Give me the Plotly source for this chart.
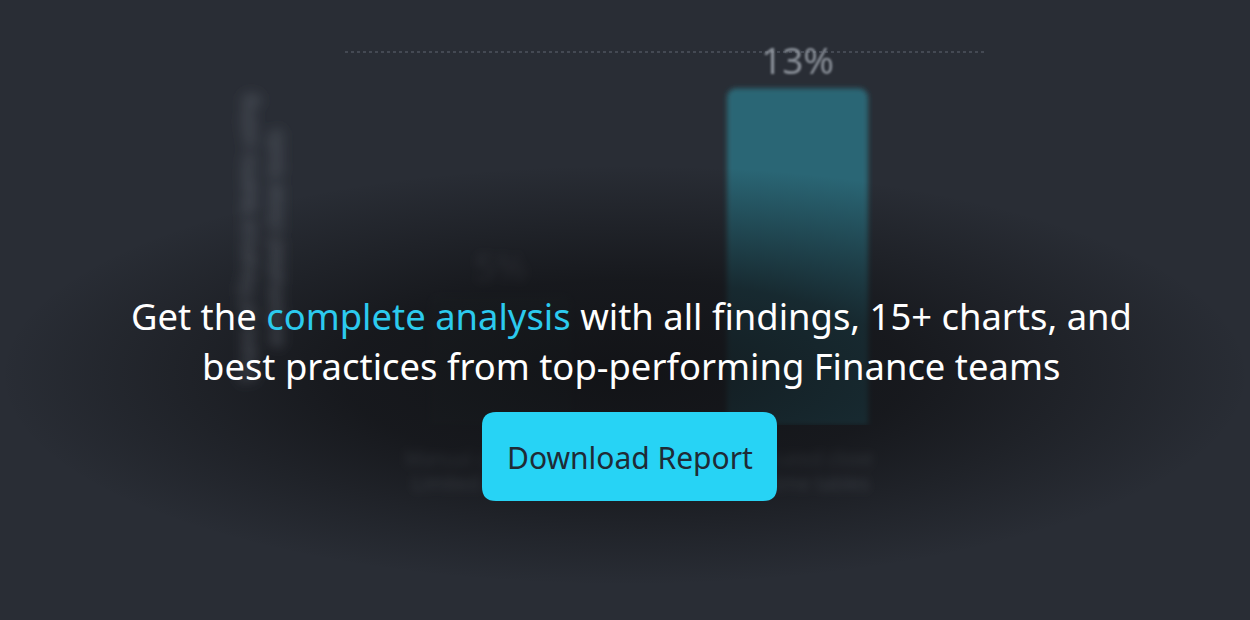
import base64
import plotly.graph_objects as go

# chart values (the chart behind the overlay is blurred, labels are approximate)
categories = ["Manual close process<br>Limited automation", "Automated close<br>Real-time tables"]
shares = [5, 13]
share_labels = ["5%", "13%"]
bar_colors = ["#2c3038", "#2b6675"]
label_colors = ["#464a53", "#8a9099"]

# overlay texts
line_one = ("Get the <span style='color:#2ccaee'>complete analysis</span>"
            " with all findings, 15+ charts, and")
line_two = "best practices from top-performing Finance teams"
button_text = "Download Report"

W, H = 1250, 620
L, R, T, B = 352, 304, 52, 195
PW, PH = W - L - R, H - T - B


def px(x):
    return (x - L) / PW


def py(y):
    return (H - B - y) / PH


fig = go.Figure()

fig.add_trace(go.Bar(
    x=categories, y=shares,
    text=share_labels, textposition="outside",
    textfont=dict(size=37, color=label_colors, family="Noto Sans"),
    marker=dict(color=bar_colors, cornerradius=9, line=dict(width=0)),
    width=0.475, cliponaxis=False, hoverinfo="skip",
))

# dark vignette behind the message
vignette = (
    "<svg xmlns='http://www.w3.org/2000/svg' width='1250' height='420'>"
    "<defs><radialGradient id='g' cx='50%' cy='50%' r='50%'>"
    "<stop offset='0' stop-color='#0f1013' stop-opacity='0.88'/>"
    "<stop offset='0.45' stop-color='#0f1013' stop-opacity='0.7'/>"
    "<stop offset='0.8' stop-color='#0f1013' stop-opacity='0.25'/>"
    "<stop offset='1' stop-color='#0f1013' stop-opacity='0'/>"
    "</radialGradient></defs>"
    "<rect width='1250' height='420' fill='url(#g)'/></svg>"
)
src = "data:image/svg+xml;base64," + base64.b64encode(vignette.encode()).decode()
fig.add_layout_image(dict(
    source=src, xref="paper", yref="paper",
    x=px(0), y=py(165), sizex=W / PW, sizey=420 / PH,
    sizing="stretch", xanchor="left", yanchor="top", layer="above", opacity=1,
))

# dotted top gridline
fig.add_shape(type="line", xref="paper", yref="paper",
              x0=px(345), x1=px(985), y0=1, y1=1,
              line=dict(color="#4d535d", width=1.5, dash="dot"), layer="below")

# rounded button
bx0, bx1, by0, by1, r = 482, 777, 412, 501, 14
path = (f"M {px(bx0 + r)},{py(by0)} L {px(bx1 - r)},{py(by0)} "
        f"Q {px(bx1)},{py(by0)} {px(bx1)},{py(by0 + r)} "
        f"L {px(bx1)},{py(by1 - r)} Q {px(bx1)},{py(by1)} {px(bx1 - r)},{py(by1)} "
        f"L {px(bx0 + r)},{py(by1)} Q {px(bx0)},{py(by1)} {px(bx0)},{py(by1 - r)} "
        f"L {px(bx0)},{py(by0 + r)} Q {px(bx0)},{py(by0)} {px(bx0 + r)},{py(by0)} Z")
fig.add_shape(type="path", path=path, xref="paper", yref="paper",
              fillcolor="#27d3f5", line=dict(width=0), layer="above")

font = "Noto Sans, Open Sans, sans-serif"
for txt, xc, yc, size, col in [(line_one, 631, 316, 36.4, "#ffffff"),
                               (line_two, 631, 366, 36.4, "#ffffff"),
                               (button_text, 630, 457, 30, "#1f2b36")]:
    fig.add_annotation(text=txt, x=px(xc), y=py(yc), xref="paper", yref="paper",
                       xanchor="center", yanchor="middle", showarrow=False,
                       font=dict(size=size, color=col, family=font))

fig.update_layout(
    width=W, height=H,
    margin=dict(l=L, r=R, t=T, b=B, pad=0),
    paper_bgcolor="#292d35", plot_bgcolor="#292d35",
    showlegend=False,
    font=dict(family=font),
)
fig.update_yaxes(range=[0, 14.4], showgrid=False, zeroline=False, showticklabels=False,
                 title=dict(text="Share of Finance teams using<br>automated close tools",
                            font=dict(size=21, color="#666c76"), standoff=62))
fig.update_xaxes(showgrid=False, showline=False, ticks="", ticklabelstandoff=20,
                 tickfont=dict(size=19, color="#5a606a"))

post = """
document.body.style.margin = '0';
document.body.style.overflow = 'hidden';
var gd = document.getElementById('{plot_id}');
var svg = gd.querySelector('.main-svg');
var ns = 'http://www.w3.org/2000/svg';
var defs = svg.querySelector('defs');
function mk(id, sd) {
  var f = document.createElementNS(ns, 'filter');
  f.setAttribute('id', id);
  f.setAttribute('filterUnits', 'userSpaceOnUse');
  f.setAttribute('x', '-1500'); f.setAttribute('y', '-1500');
  f.setAttribute('width', '4000'); f.setAttribute('height', '4000');
  var b = document.createElementNS(ns, 'feGaussianBlur');
  b.setAttribute('stdDeviation', sd);
  f.appendChild(b); defs.appendChild(f);
}
mk('lightblur', 1.0); mk('softblur', 2.4); mk('heavyblur', 4.5);
function blur(sel, id) {
  gd.querySelectorAll(sel).forEach(function(e) { e.setAttribute('filter', 'url(#' + id + ')'); });
}
blur('.barlayer .point path', 'softblur');
blur('.barlayer .point text', 'lightblur');
blur('.barlayer .point:nth-child(1) text', 'heavyblur');
blur('.xaxislayer-above', 'heavyblur');
blur('.g-ytitle', 'heavyblur');
blur('.ytitle', 'heavyblur');
"""

fig.write_html("out.html", post_script=post, config={"displayModeBar": False})
